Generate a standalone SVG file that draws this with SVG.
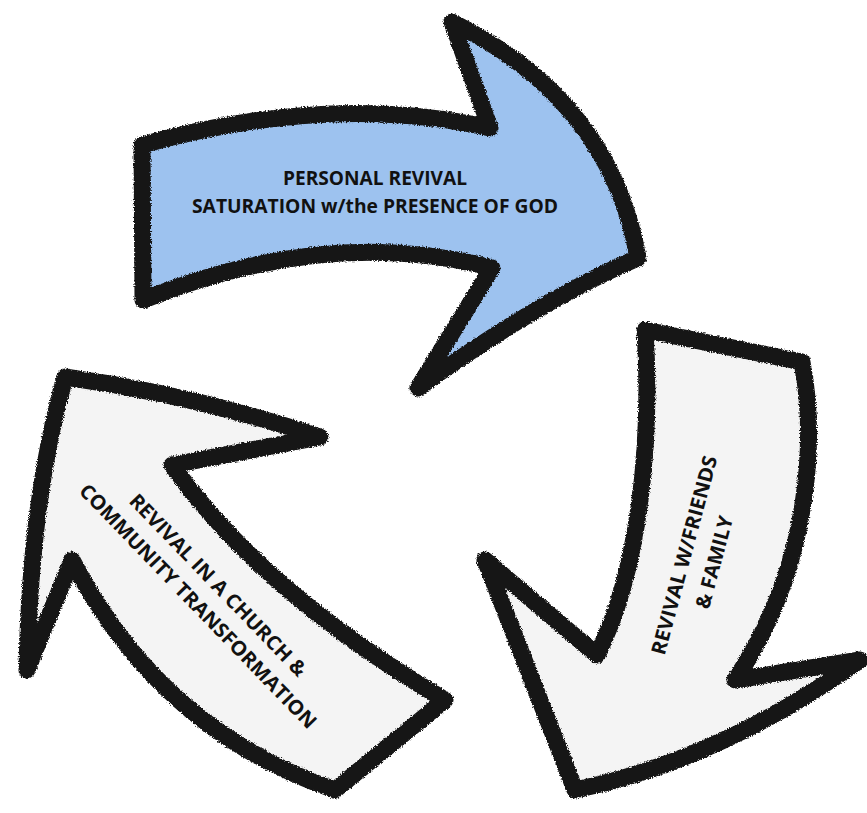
<svg xmlns="http://www.w3.org/2000/svg" width="867" height="813" viewBox="0 0 867 813">
  <style>
    .arrow { stroke: #151515; stroke-width: 17; stroke-linejoin: round; }
    .blue { fill: #9dc2ef; }
    .white { fill: #f4f4f4; }
    .lbl { font-family: "Open Sans", "Liberation Sans", sans-serif; font-weight: 700; font-size: 20px; fill: #111; }
  </style>
  <defs>
    <filter id="rough" x="-5%" y="-5%" width="110%" height="110%">
      <feTurbulence type="fractalNoise" baseFrequency="0.8" numOctaves="2" seed="3" result="n"/>
      <feDisplacementMap in="SourceGraphic" in2="n" scale="4" xChannelSelector="R" yChannelSelector="G"/>
    </filter>
  </defs>
  <rect width="867" height="813" fill="#ffffff"/>
  <g id="connectors"/>
  <g id="personal-revival">
    <path class="arrow blue" filter="url(#rough)" d="M142,145 Q330,92 490,128 L452,22 Q610,100 638,258 Q540,300 418,388 L492,268 Q330,225 143,300 Z"/>
    <text class="lbl" text-anchor="middle" x="375" y="185" textLength="184" lengthAdjust="spacingAndGlyphs">PERSONAL REVIVAL</text>
    <text class="lbl" text-anchor="middle" x="375" y="213" textLength="366" lengthAdjust="spacingAndGlyphs">SATURATION w/the PRESENCE OF GOD</text>
  </g>
  <g id="friends-family">
    <path class="arrow white" filter="url(#rough)" d="M645,330 L802,362 C815,430 815,560 735,680 L860,660 Q720,760 575,790 L485,560 L597,655 C640,570 652,440 645,330 Z"/>
    <g transform="translate(691,557) rotate(-75)">
      <text class="lbl" text-anchor="middle" x="0" y="0" textLength="205" lengthAdjust="spacingAndGlyphs">REVIVAL W/FRIENDS</text>
    </g>
    <g transform="translate(721,564) rotate(-75)">
      <text class="lbl" text-anchor="middle" x="0" y="0" textLength="95" lengthAdjust="spacingAndGlyphs">&amp; FAMILY</text>
    </g>
  </g>
  <g id="church-community">
    <path class="arrow white" filter="url(#rough)" d="M65,377 Q195,395 320,437 L172,465 Q260,590 445,700 L335,790 Q160,730 72,560 L27,670 Q30,500 65,377 Z"/>
    <g transform="translate(213,590) rotate(46)">
      <text class="lbl" text-anchor="middle" x="0" y="0" textLength="245" lengthAdjust="spacingAndGlyphs">REVIVAL IN A CHURCH &amp;</text>
    </g>
    <g transform="translate(193,611) rotate(46)">
      <text class="lbl" text-anchor="middle" x="0" y="0" textLength="331" lengthAdjust="spacingAndGlyphs">COMMUNITY TRANSFORMATION</text>
    </g>
  </g>
</svg>
